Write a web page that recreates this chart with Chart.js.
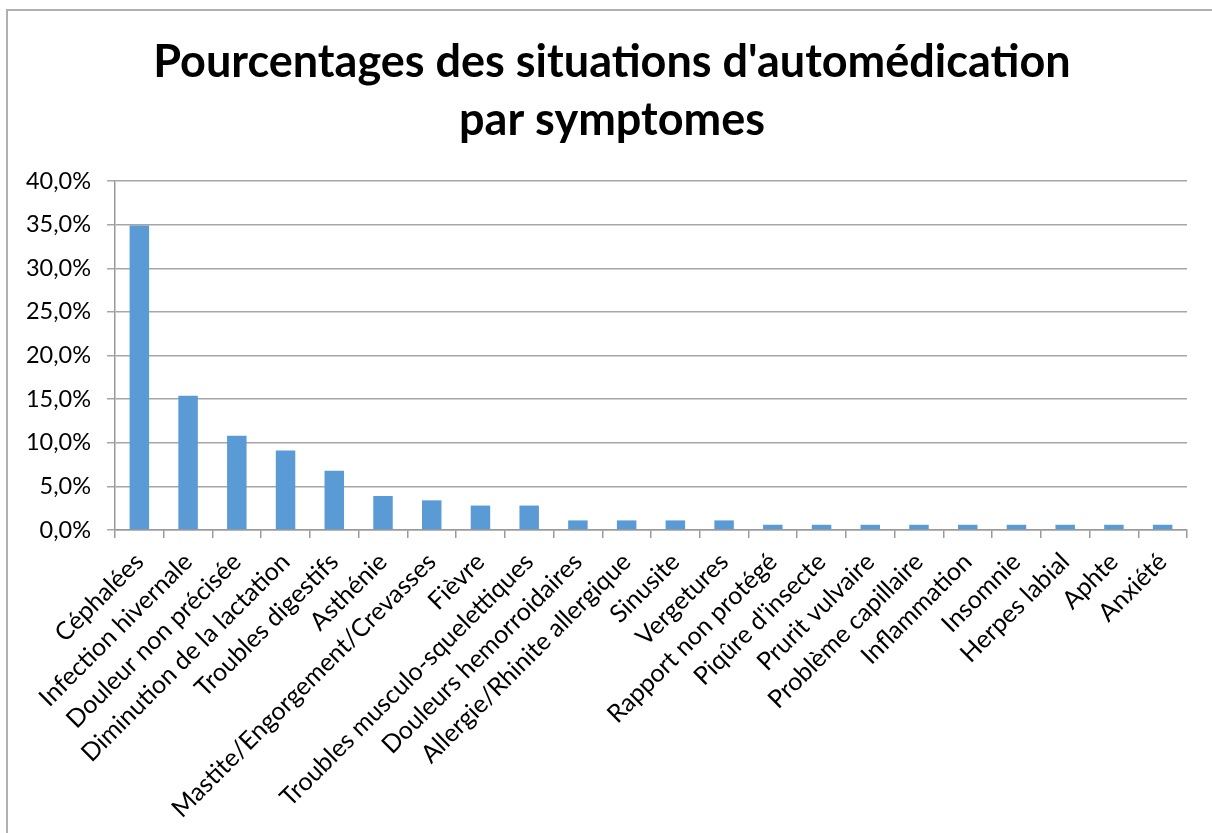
<!DOCTYPE html>
<html>
<head>
<meta charset="utf-8">
<script src="https://cdn.jsdelivr.net/npm/chart.js@4.4.1/dist/chart.umd.min.js"></script>
<style>
  body { margin: 0; background: #fff; overflow: hidden; }
  #frame { position: absolute; left: 6px; top: 9px; width: 1240px; height: 860px; border: 2px solid #b0b0b0; }
  #wrap { position: absolute; left: 0; top: 0; width: 1212px; height: 833px; }
</style>
</head>
<body>
<div id="frame"></div>
<div id="wrap"><canvas id="mychart"></canvas></div>
<script>
const symptomes = [
  "Céphalées", "Infection hivernale", "Douleur non précisée", "Diminution de la lactation",
  "Troubles digestifs", "Asthénie", "Mastite/Engorgement/Crevasses", "Fièvre",
  "Troubles musculo-squelettiques", "Douleurs hemorroidaires", "Allergie/Rhinite allergique",
  "Sinusite", "Vergetures", "Rapport non protégé", "Piqûre d'insecte", "Prurit vulvaire",
  "Problème capillaire", "Inflammation", "Insomnie", "Herpes labial", "Aphte", "Anxiété"
]
const pourcentages = [
  34.9, 15.4, 10.8, 9.1, 6.8, 3.9, 3.4, 2.8, 2.8, 1.1, 1.1,
  1.1, 1.1, 0.6, 0.6, 0.6, 0.6, 0.6, 0.6, 0.6, 0.6, 0.6
]
const titre = ["Pourcentages des situations d'automédication", "par symptomes"]
const yMin = 0, yMax = 40, yStep = 5

const data = {
  labels: symptomes,
  datasets: [{
    label: "Pourcentage",
    data: pourcentages,
    backgroundColor: "#5b9bd5",
    borderWidth: 0,
    barPercentage: 0.4,
    categoryPercentage: 1.0
  }]
}

const config = {
  type: "bar",
  data,
  options: {
    responsive: true,
    maintainAspectRatio: false,
    animation: false,
    layout: { padding: { left: 12, right: 0, top: 0, bottom: 0 } },
    plugins: {
      legend: { display: false },
      tooltip: { enabled: false },
      title: {
        display: true,
        text: titre,
        color: "#000",
        font: { family: "Lato", size: 45, weight: "bold", lineHeight: 1.3 },
        padding: { top: 33, bottom: 31 }
      }
    },
    scales: {
      x: {
        offset: true,
        border: { color: "#9a9a9a", width: 1.5 },
        grid: {
          offset: true,
          drawOnChartArea: false,
          drawTicks: true,
          tickLength: 8,
          color: "#9a9a9a",
          lineWidth: 1.5
        },
        ticks: {
          autoSkip: false,
          maxRotation: 45,
          minRotation: 45,
          padding: 9,
          color: "#000",
          font: { family: "Lato", size: 25 }
        },
        afterFit: (scale) => { scale.height = 303 }
      },
      y: {
        min: yMin,
        max: yMax,
        border: { color: "#9a9a9a", width: 1.5 },
        grid: {
          color: "#a6a6a6",
          lineWidth: 1.5,
          drawTicks: true,
          tickLength: 8
        },
        ticks: {
          stepSize: yStep,
          padding: 16,
          color: "#000",
          font: { family: "Lato", size: 23.5 },
          callback: (v) => v.toFixed(1).replace(".", ",") + "%"
        },
        afterFit: (scale) => { scale.width = 103 }
      },
      // empty right axis, only keeps a margin at the right of the plot
      y2: {
        position: "right",
        min: yMin,
        max: yMax,
        border: { display: false },
        grid: { display: false },
        ticks: { display: false },
        afterFit: (scale) => { scale.width = 25 }
      }
    }
  }
}

let chart1 = new Chart(document.querySelector("#mychart"), config)
</script>
</body>
</html>
